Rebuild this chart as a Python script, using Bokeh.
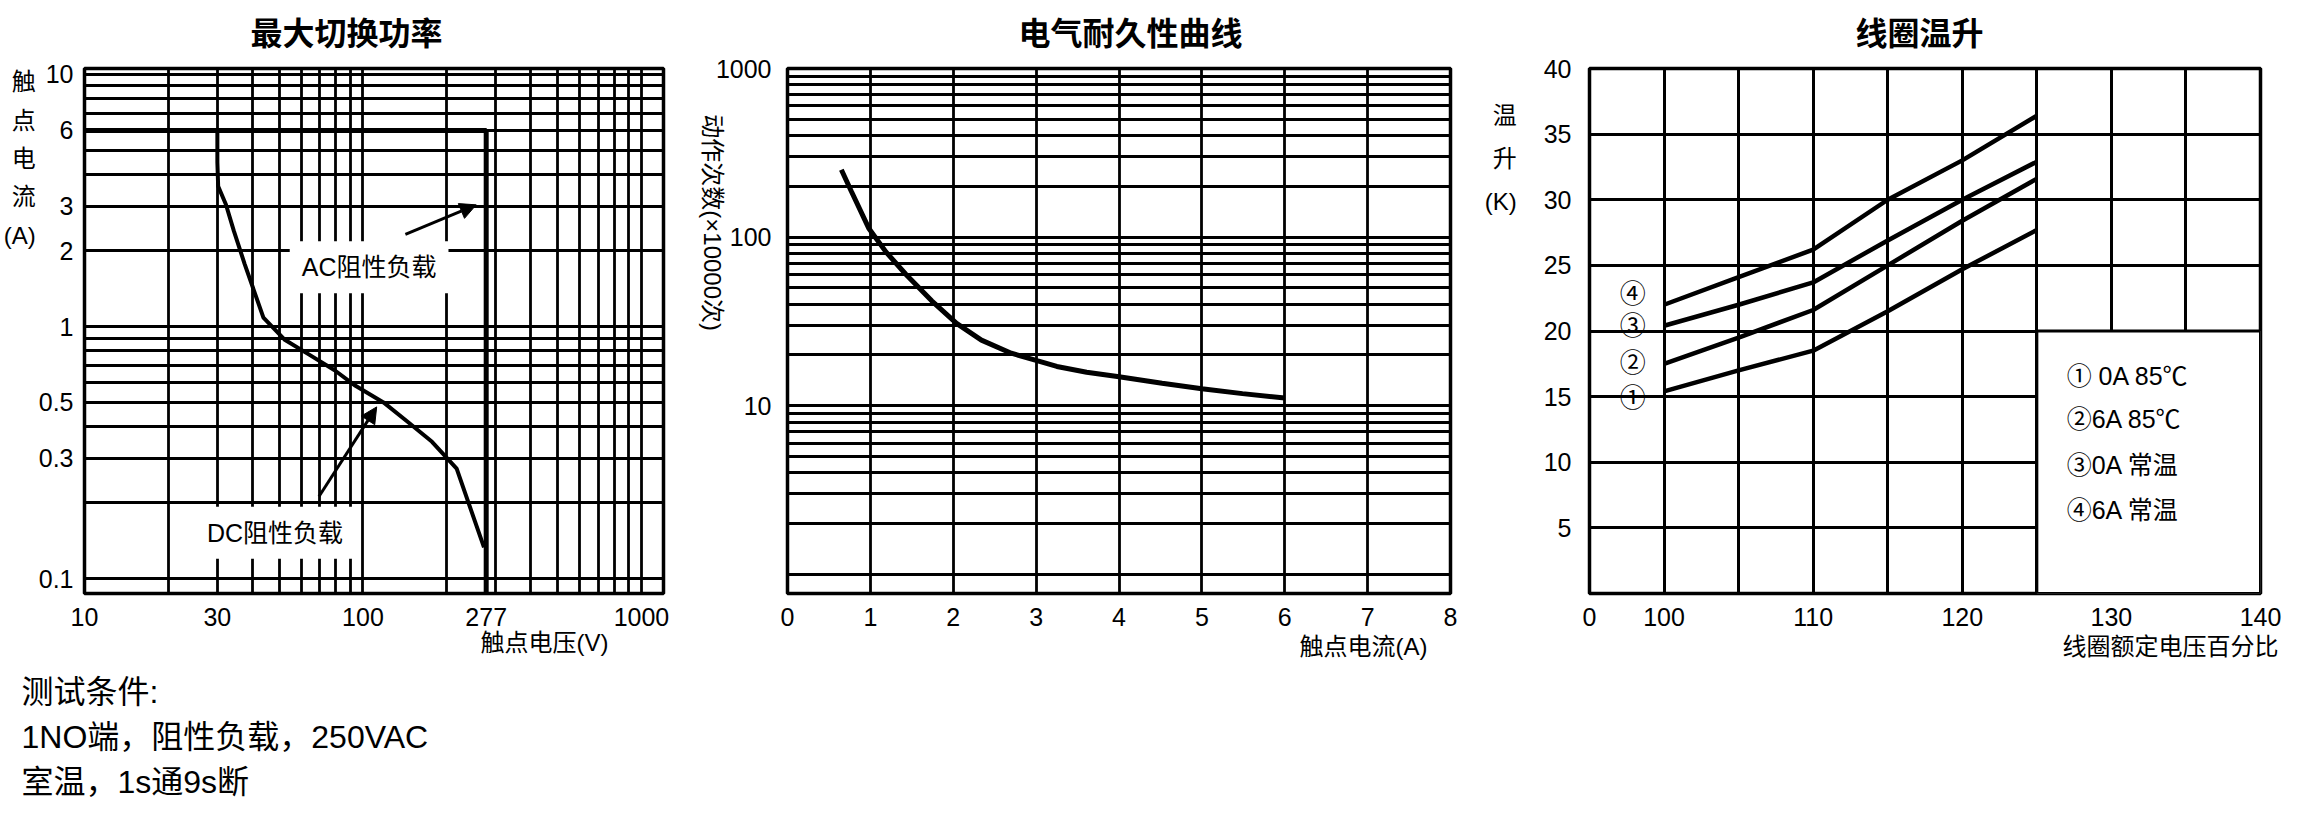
import math
from bokeh.plotting import figure
from bokeh.models import FixedTicker, Label, Arrow, NormalHead, Range1d, Title
from bokeh.layouts import row, column
from bokeh.embed import file_html
from bokeh.resources import INLINE

FONT = "Liberation Sans, Noto Sans CJK SC"

# ---------------- chart 1: 最大切换功率 ----------------
V_TICKS = [10, 30, 100, 277, 1000]
I_TICKS = [0.1, 0.3, 0.5, 1, 2, 3, 6, 10]
AC_V = [10, 277, 277]
AC_I = [6, 6, 0.0873]
DC_V = [30, 30, 30.2, 32.2, 34.4, 37.6, 43.9, 52.2, 64.3, 79.1, 94, 118.5, 145, 177, 217, 272]
DC_I = [6, 4.48, 3.6, 3.05, 2.39, 1.77, 1.085, 0.889, 0.772, 0.671, 0.582, 0.5, 0.418, 0.349, 0.273, 0.133]

# ---------------- chart 2: 电气耐久性曲线 ----------------
CUR_TICKS = [0, 1, 2, 3, 4, 5, 6, 7, 8]
LIFE_TICKS = [10, 100, 1000]
LIFE_I = [0.65, 0.77, 0.98, 1.19, 1.43, 1.74, 2.04, 2.34, 2.70, 3.01, 3.25, 3.61, 3.98, 4.52, 5.00, 5.49, 6.00]
LIFE_N = [251, 187, 113, 81.5, 60, 41.9, 30.8, 24.5, 20.5, 18.5, 17.1, 15.8, 14.9, 13.6, 12.6, 11.8, 11.1]

# ---------------- chart 3: 线圈温升 ----------------
PCT_TICKS = [95, 100, 110, 120, 130, 140]
PCT_TICK_LABELS = ["0", "100", "110", "120", "130", "140"]
PCT_GRID = [95, 100, 105, 110, 115, 120, 125, 130, 135, 140]
RISE_TICKS = [5, 10, 15, 20, 25, 30, 35, 40]
COIL_PCT = [100, 105, 110, 115, 120, 125]
RISE_1 = [15.4, 17.0, 18.5, 21.5, 24.7, 27.7]
RISE_2 = [17.5, 19.5, 21.6, 25.0, 28.4, 31.6]
RISE_3 = [20.4, 22.0, 23.7, 26.9, 30.0, 32.9]
RISE_4 = [22.0, 24.1, 26.2, 30.0, 33.0, 36.4]
SERIES_MARKS = ["①", "②", "③", "④"]
LEGEND_TEXT = ["① 0A 85℃", "②6A 85℃", "③0A 常温", "④6A 常温"]

NOTE_TEXT = "测试条件:\n1NO端，阻性负载，250VAC\n室温，1s通9s断"

# ---------------- layout (page pixels) ----------------
FIG_TOP, FIG_BOTTOM = 8, 680
FRAME_TOP, FRAME_BOTTOM = 70, 601
FIG_H = FIG_BOTTOM - FIG_TOP
MB_TOP = FRAME_TOP - FIG_TOP
MB_BOTTOM = FIG_BOTTOM - FRAME_BOTTOM
TICK_PX = "25px"


def decade_grid(first_exp, last_exp):
    vals = [m * 10.0 ** e for e in range(first_exp, last_exp) for m in range(1, 10)]
    return vals + [10.0 ** last_exp]


def make_fig(page_left, page_right, fx, x_type, y_type, xr, yr, title, title_left,
             ytick_standoff):
    p = figure(width=page_right - page_left, height=FIG_H, x_axis_type=x_type,
               y_axis_type=y_type, x_range=Range1d(*xr), y_range=Range1d(*yr),
               output_backend="svg", toolbar_location=None,
               min_border_left=fx[0] - page_left, min_border_right=page_right - fx[1],
               min_border_top=MB_TOP, min_border_bottom=MB_BOTTOM, title=title)
    p.title.align = "left"
    p.title.offset = title_left - fx[0]
    p.title.vertical_align = "top"
    p.title.standoff = 30
    p.title.text_font = FONT
    p.title.text_font_size = "32px"
    p.title.text_font_style = "bold"
    p.title.text_color = "black"
    p.outline_line_color = "black"
    p.outline_line_width = 3.5
    p.outline_line_alpha = 1
    p.background_fill_color = "white"
    p.border_fill_color = "white"
    for ax in (p.xaxis[0], p.yaxis[0]):
        ax.axis_line_color = None
        ax.major_tick_line_color = None
        ax.minor_tick_line_color = None
        ax.major_label_text_font = FONT
        ax.major_label_text_font_size = TICK_PX
        ax.major_label_text_color = "black"
        ax.axis_label_text_font = FONT
        ax.axis_label_text_font_size = "24px"
        ax.axis_label_text_font_style = "normal"
        ax.axis_label_text_color = "black"
    p.xaxis.major_label_standoff = 8
    p.yaxis.major_label_standoff = ytick_standoff
    for g in (p.xgrid[0], p.ygrid[0]):
        g.grid_line_color = "black"
        g.grid_line_width = 2.8
        g.grid_line_alpha = 1
    return p


def y_title(p, lines, standoff, line_height, lift_lines):
    """Stacked (one character per row) axis title; empty rows below lift it to the top."""
    ax = p.yaxis[0]
    ax.axis_label = "\n".join(lines) + "\n" * lift_lines
    ax.axis_label_orientation = "horizontal"
    ax.axis_label_standoff = standoff
    ax.axis_label_text_line_height = line_height


def x_title(p, text, align, offset, standoff):
    p.add_layout(Title(text=text, align=align, offset=offset, standoff=standoff,
                       vertical_align="top", text_font=FONT, text_font_size="24px",
                       text_font_style="normal", text_color="black"), "below")


# ====== figure 1 ======
F1X, R1X, R1Y = (81, 671), (10, 1200), (0.0873, 10.56)
p1 = make_fig(8, 690, F1X, "log", "log", R1X, R1Y, "最大切换功率", 247, 5)
p1.xaxis.ticker = FixedTicker(ticks=V_TICKS)
p1.xaxis.major_label_overrides = {v: f"{v:g}" for v in V_TICKS}
p1.yaxis.ticker = FixedTicker(ticks=I_TICKS)
p1.yaxis.major_label_overrides = {v: f"{v:g}" for v in I_TICKS}
p1.xgrid.ticker = FixedTicker(ticks=decade_grid(1, 3))
p1.ygrid.ticker = FixedTicker(ticks=decade_grid(-1, 1))

p1.line(AC_V, AC_I, line_color="black", line_width=5, line_cap="round")
p1.line(DC_V, DC_I, line_color="black", line_width=4)

for txt, lx, ly in (("AC阻性负载", 105.2, 1.72), ("DC阻性负载", 48.3, 0.152)):
    p1.add_layout(Label(x=lx, y=ly, text=txt, text_font=FONT, text_font_size="25px",
                        text_align="center", text_baseline="middle", text_color="black",
                        background_fill_color="white", padding=12))
p1.add_layout(Arrow(end=NormalHead(size=16, fill_color="black", line_color="black"),
                    x_start=142, y_start=2.32, x_end=255, y_end=3.04,
                    line_width=3, line_color="black"))
p1.add_layout(Arrow(end=NormalHead(size=16, fill_color="black", line_color="black"),
                    x_start=69.5, y_start=0.2117, x_end=112, y_end=0.48,
                    line_width=3, line_color="black"))
y_title(p1, ["触", "点", "电", "流", "(A)"], 0, 1.42, 9)
x_title(p1, "触点电压(V)", "left", 477 - F1X[0], 0)

# ====== figure 2 ======
F2X, R2X, R2Y = (784, 1458), (0, 8), (0.77, 1000)
p2 = make_fig(690, 1489, F2X, "linear", "log", R2X, R2Y, "电气耐久性曲线", 1015, 10)
p2.xaxis.ticker = FixedTicker(ticks=CUR_TICKS)
p2.yaxis.ticker = FixedTicker(ticks=LIFE_TICKS)
p2.yaxis.major_label_overrides = {v: f"{v:g}" for v in LIFE_TICKS}
p2.xgrid.ticker = FixedTicker(ticks=CUR_TICKS)
p2.ygrid.ticker = FixedTicker(ticks=decade_grid(0, 3))
p2.line(LIFE_I, LIFE_N, line_color="black", line_width=5)
p2.yaxis.axis_label = "动作次数(×10000次)"
p2.yaxis.axis_label_orientation = -math.pi / 2      # reads top to bottom
p2.yaxis.axis_label_standoff = 0
x_title(p2, "触点电流(A)", "left", 1296 - F2X[0], 8)

# ====== figure 3 ======
F3X, R3X, R3Y = (1585, 2268), (95, 140), (0, 40)
p3 = make_fig(1489, 2290, F3X, "linear", "linear", R3X, R3Y, "线圈温升", 1851, 12)
p3.xaxis.ticker = FixedTicker(ticks=PCT_TICKS)
p3.xaxis.major_label_overrides = dict(zip(PCT_TICKS, PCT_TICK_LABELS))
p3.yaxis.ticker = FixedTicker(ticks=RISE_TICKS)
p3.xgrid.ticker = FixedTicker(ticks=PCT_GRID)
p3.ygrid.ticker = FixedTicker(ticks=RISE_TICKS)
p3.xgrid.grid_line_width = 3
p3.ygrid.grid_line_width = 3

# legend box (lower right, grid-free area of the original chart)
p3.quad(left=[125], right=[140], bottom=[0], top=[20], fill_color="white",
        line_color="black", line_width=3)
for ys in (RISE_1, RISE_2, RISE_3, RISE_4):
    p3.line(COIL_PCT, ys, line_color="black", line_width=4.5)

MARK_Y = [14.9, 17.6, 20.4, 22.8]
for mk, my in zip(SERIES_MARKS, MARK_Y):
    p3.add_layout(Label(x=97.9, y=my, text=mk, text_font=FONT, text_font_size="26px",
                        text_align="center", text_baseline="middle", text_color="black"))
LEG_Y = [16.57, 13.26, 9.8, 6.33]
for lt, ly in zip(LEGEND_TEXT, LEG_Y):
    p3.add_layout(Label(x=127.0, y=ly, text=lt, text_font=FONT, text_font_size="25px",
                        text_align="left", text_baseline="middle", text_color="black"))
y_title(p3, ["温", "升", "(K)"], 24, 1.6, 8)
x_title(p3, "线圈额定电压百分比", "right", F3X[1] - 2286, 8)

# ====== notes strip below the charts ======
NOTE_H = 819 - FIG_BOTTOM
p4 = figure(width=700, height=NOTE_H, x_range=Range1d(0, 700), y_range=Range1d(0, NOTE_H),
            x_axis_location=None, y_axis_location=None, output_backend="svg",
            toolbar_location=None, min_border=0)
p4.outline_line_color = None
p4.xgrid.visible = False
p4.ygrid.visible = False
p4.background_fill_color = "white"
p4.border_fill_color = "white"
p4.add_layout(Label(x=29 - 8, y=NOTE_H - 1, text=NOTE_TEXT, text_font=FONT,
                    text_font_size="32px", text_align="left", text_baseline="top",
                    text_line_height=1.25, text_color="black"))

layout = column(row(p1, p2, p3), p4)
with open("out.html", "w", encoding="utf-8") as f:
    f.write(file_html(layout, INLINE, title="relay charts"))
